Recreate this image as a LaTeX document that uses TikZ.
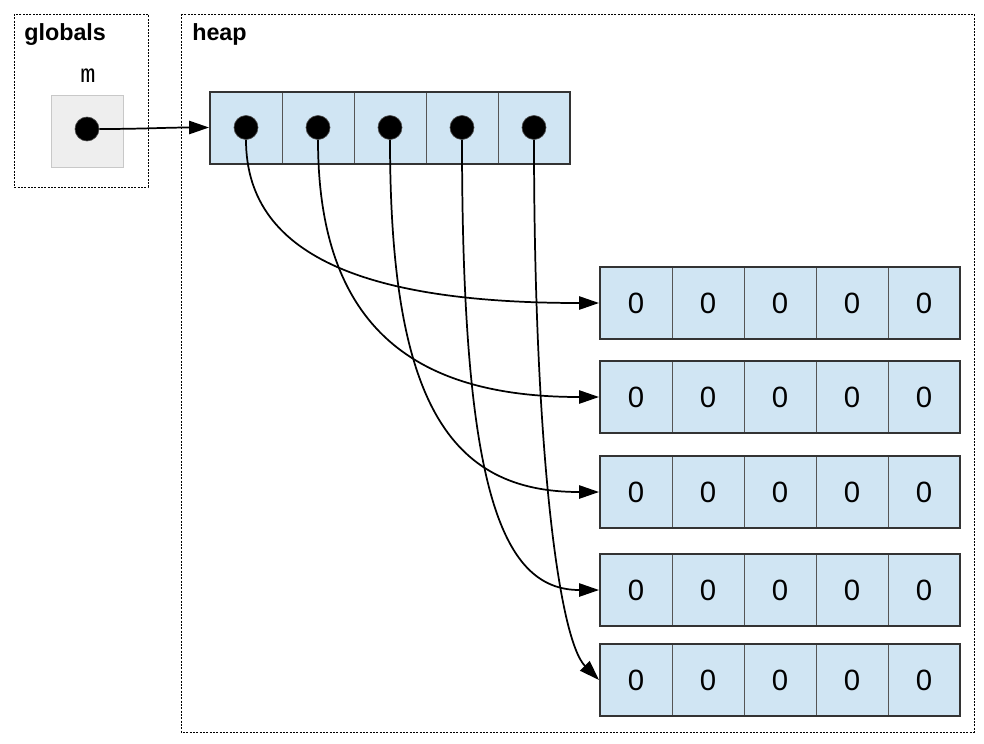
\documentclass[tikz,border=0pt]{standalone}
\usepackage{fontspec}
\setmainfont{Liberation Sans}
\setmonofont{Liberation Mono}
\usetikzlibrary{arrows.meta,positioning}
\definecolor{cellblue}{RGB}{208,229,243}
\definecolor{slotgray}{RGB}{238,238,238}
\definecolor{slotedge}{RGB}{200,200,200}
\definecolor{celledge}{RGB}{85,85,85}
\definecolor{rowedge}{RGB}{51,51,51}

\begin{document}
\begin{tikzpicture}
    [
        x=0.75pt, y=-0.75pt,
        Frame/.style={draw, line width=0.75pt, dash pattern=on 1.5pt off 1pt},
        Title/.style={anchor=base west, inner sep=0pt, font=\fontsize{17.5}{20}\selectfont\bfseries},
        VarName/.style={anchor=base, inner sep=0pt, font=\fontsize{19}{22}\selectfont\ttfamily},
        Slot/.style={rectangle, minimum width=54pt, minimum height=54pt, draw=slotedge, fill=slotgray, line width=0.75pt},
        Cell/.style={rectangle, minimum width=54pt, minimum height=54pt, outer sep=0pt, draw=celledge, fill=cellblue, line width=0.6pt, font=\fontsize{22}{26}\selectfont},
        RowBox/.style={rectangle, minimum width=270pt, minimum height=54pt, draw=rowedge, line width=1.5pt},
        Dot/.style={circle, minimum size=18pt, inner sep=0pt, fill=black, draw=black!70, line width=0.5pt},
        Pointer/.style={-{Triangle[length=15pt,width=10pt]}, line width=1.3pt}
    ]

    \useasboundingbox (0,0) rectangle (984,743);

    \draw[Frame] (14,14) rectangle (148,187);
    \draw[Frame] (181,14) rectangle (974,732);
    \node[Title] (globals_title) at (24,40) {globals};
    \node[Title] (heap_title) at (192,40) {heap};

    \node[VarName] (m_name) at (88,82) {m};
    \node[Slot] (m_slot) at (87,131) {};
    \node[Dot] (m_dot) at (87,129) {};

    \node[Cell] (outer_cell0) at (246,127.5) {};
    \node[Cell,right=0pt of outer_cell0] (outer_cell1) {};
    \node[Cell,right=0pt of outer_cell1] (outer_cell2) {};
    \node[Cell,right=0pt of outer_cell2] (outer_cell3) {};
    \node[Cell,right=0pt of outer_cell3] (outer_cell4) {};
    \node[RowBox] (outer_array) at (390,127.5) {};
    \node[Dot] (outer_dot0) at (outer_cell0) {};
    \node[Dot] (outer_dot1) at (outer_cell1) {};
    \node[Dot] (outer_dot2) at (outer_cell2) {};
    \node[Dot] (outer_dot3) at (outer_cell3) {};
    \node[Dot] (outer_dot4) at (outer_cell4) {};

    \node[Cell] (row1_cell0) at (636,303) {0};
    \node[Cell,right=0pt of row1_cell0] (row1_cell1) {0};
    \node[Cell,right=0pt of row1_cell1] (row1_cell2) {0};
    \node[Cell,right=0pt of row1_cell2] (row1_cell3) {0};
    \node[Cell,right=0pt of row1_cell3] (row1_cell4) {0};
    \node[RowBox] (row1) at (780,303) {};

    \node[Cell] (row2_cell0) at (636,397) {0};
    \node[Cell,right=0pt of row2_cell0] (row2_cell1) {0};
    \node[Cell,right=0pt of row2_cell1] (row2_cell2) {0};
    \node[Cell,right=0pt of row2_cell2] (row2_cell3) {0};
    \node[Cell,right=0pt of row2_cell3] (row2_cell4) {0};
    \node[RowBox] (row2) at (780,397) {};

    \node[Cell] (row3_cell0) at (636,492) {0};
    \node[Cell,right=0pt of row3_cell0] (row3_cell1) {0};
    \node[Cell,right=0pt of row3_cell1] (row3_cell2) {0};
    \node[Cell,right=0pt of row3_cell2] (row3_cell3) {0};
    \node[Cell,right=0pt of row3_cell3] (row3_cell4) {0};
    \node[RowBox] (row3) at (780,492) {};

    \node[Cell] (row4_cell0) at (636,590) {0};
    \node[Cell,right=0pt of row4_cell0] (row4_cell1) {0};
    \node[Cell,right=0pt of row4_cell1] (row4_cell2) {0};
    \node[Cell,right=0pt of row4_cell2] (row4_cell3) {0};
    \node[Cell,right=0pt of row4_cell3] (row4_cell4) {0};
    \node[RowBox] (row4) at (780,590) {};

    \node[Cell] (row5_cell0) at (636,680) {0};
    \node[Cell,right=0pt of row5_cell0] (row5_cell1) {0};
    \node[Cell,right=0pt of row5_cell1] (row5_cell2) {0};
    \node[Cell,right=0pt of row5_cell2] (row5_cell3) {0};
    \node[Cell,right=0pt of row5_cell3] (row5_cell4) {0};
    \node[RowBox] (row5) at (780,680) {};

    \draw[Pointer] (m_dot.east) to[out=0, in=180] (outer_array.west);
    \draw[Pointer] (outer_dot0.south) .. controls +(0,122) and +(-220,0) .. (row1.west);
    \draw[Pointer] (outer_dot1.south) .. controls +(0,192) and +(-180,0) .. (row2.west);
    \draw[Pointer] (outer_dot2.south) .. controls +(0,262) and +(-150,0) .. (row3.west);
    \draw[Pointer] (outer_dot3.south) .. controls +(0,342) and +(-100,0) .. (row4.west);
    \draw[Pointer] (outer_dot4.south) .. controls +(0,312) and +(-40,-40) .. (row5.west);
\end{tikzpicture}
\end{document}
